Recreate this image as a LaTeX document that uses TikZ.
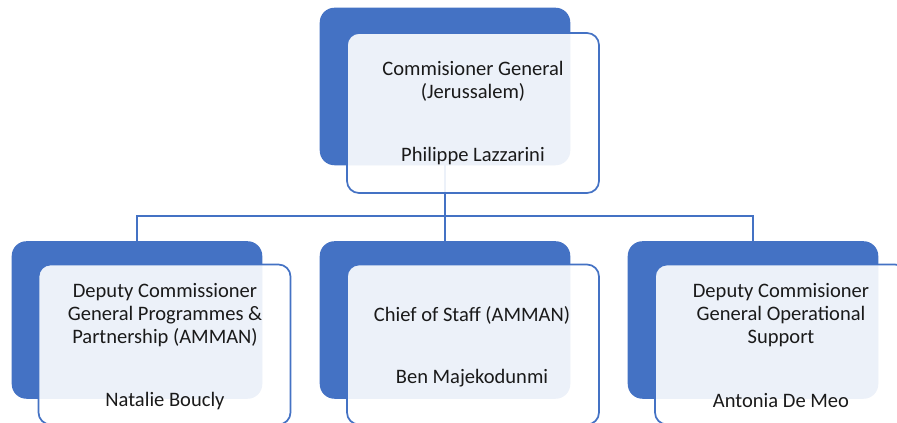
\documentclass[tikz,border=0pt]{standalone}
\usepackage{fontspec}
\setmainfont{Carlito}
\definecolor{accent}{HTML}{4472C4}
\definecolor{txt}{HTML}{1A1A1A}
\begin{document}
\begin{tikzpicture}[x=0.75pt,y=-0.75pt,
  backbox/.style={draw=none,fill=accent,rounded corners=11pt,inner sep=0pt,
    minimum width=187.5pt,minimum height=117.75pt},
  frontbox/.style={draw=accent,line width=1.3pt,fill=white,fill opacity=0.9,
    rounded corners=9pt,inner sep=0pt,minimum width=189pt,minimum height=120pt},
  label/.style={font=\fontsize{15.4pt}{17.3pt}\selectfont,text=txt,align=center,inner sep=0pt},
  conn/.style={draw=accent,line width=1.4pt}]
\useasboundingbox (0,0) rectangle (897,423);
\clip (0,0) rectangle (897,423);
% back boxes (positions only; drawn after connectors)
\path (445,86.5) node[backbox,fill=none] (b0) {};
\path (137,320) node[backbox,fill=none] (b1) {};
\path (445,320) node[backbox,fill=none] (b2) {};
\path (753,320) node[backbox,fill=none] (b3) {};
\coordinate (bus) at (445,216);
% connectors
\draw[conn] (b0.south) -- (bus);
\draw[conn] (b1.north) |- (bus);
\draw[conn] (b3.north) |- (bus);
\draw[conn] (bus) -- (b2.north);
% back boxes filled
\foreach \n in {b0,b1,b2,b3}{
  \fill[accent,rounded corners=11pt] (\n.north west) rectangle (\n.south east);
}
% front boxes
\node[frontbox] (f0) at (473,113) {};
\node[frontbox] (f1) at (164.5,344.5) {};
\node[frontbox] (f2) at (473,344.5) {};
\node[frontbox] (f3) at (781,344.5) {};
% texts
\node[label] (t0) at (473,81.5) {Commisioner General\\(Jerussalem)};
\node[label] (n0) at (473,156) {Philippe Lazzarini};
\node[label] (t1) at (165,315) {Deputy Commissioner\\General Programmes \&\\Partnership (AMMAN)};
\node[label] (n1) at (165,401) {Natalie Boucly};
\node[label] (t2) at (472,315) {Chief of Staff (AMMAN)};
\node[label] (n2) at (472,378) {Ben Majekodunmi};
\node[label] (t3) at (781,315) {Deputy Commisioner\\General Operational\\Support};
\node[label] (n3) at (781,401) {Antonia De Meo};
\end{tikzpicture}
\end{document}
